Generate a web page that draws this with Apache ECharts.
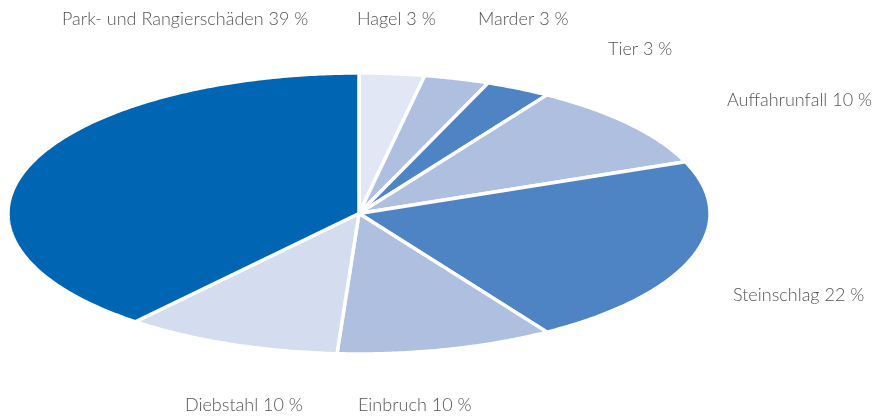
<!DOCTYPE html>
<html>
<head>
<meta charset="utf-8">
<script src="https://cdn.jsdelivr.net/npm/echarts@6/dist/echarts.min.js"></script>
<style>
  html, body { margin: 0; padding: 0; background: #fff; }
  #chart { width: 874px; height: 416px; }
</style>
</head>
<body>
<div id="chart"></div>
<script>
// Reihenfolge im Uhrzeigersinn ab 12 Uhr
const names = ['Hagel', 'Marder', 'Tier', 'Auffahrunfall', 'Steinschlag', 'Einbruch', 'Diebstahl', 'Park- und Rangierschäden'];
const values = [3, 3, 3, 10, 22, 10, 10, 39];
const colors = ['#e1e7f5', '#afbfe0', '#4f84c4', '#afbfe0', '#4f84c4', '#afbfe0', '#d3ddef', '#0066b3'];

// Lage der Beschriftungen (links, Mitte)
const labelPos = [[357, 21], [478, 21], [608, 51], [727, 102], [733, 297], [358, 407], [185, 407], [62, 21]];

const chart = echarts.init(document.getElementById('chart'));

const total = values.reduce((a, b) => a + b, 0);
let acc = 0;
const slices = values.map((v, i) => {
    const s = acc;
    acc += v;
    return [s / total, acc / total, i];
});

// gestauchter Kreis -> Ellipse über unterschiedliche Achsenskalen
function renderSlice(params, api) {
    const a0 = api.value(0) * Math.PI * 2;
    const a1 = api.value(1) * Math.PI * 2;
    const i = api.value(2);
    const pts = [api.coord([0, 0])];
    const steps = Math.max(4, Math.ceil((a1 - a0) / 0.01));
    for (let k = 0; k <= steps; k++) {
        const a = a0 + (a1 - a0) * k / steps;
        pts.push(api.coord([Math.sin(a), Math.cos(a)]));
    }
    return {
        type: 'polygon',
        shape: { points: pts },
        style: { fill: colors[i], stroke: '#fff', lineWidth: 3.5, lineJoin: 'round' }
    };
}

const option = {
    animation: false,
    grid: { left: 8, right: 164, top: 73, bottom: 62 },
    xAxis: { type: 'value', min: -1, max: 1, show: false },
    yAxis: { type: 'value', min: -1, max: 1, show: false },
    graphic: names.map((n, i) => ({
        type: 'text',
        left: labelPos[i][0],
        top: labelPos[i][1] - 11,
        style: {
            text: n + ' ' + values[i] + ' %',
            fill: '#555',
            font: '300 18px Lato',
            textVerticalAlign: 'top'
        }
    })),
    series: [{
        type: 'custom',
        renderItem: renderSlice,
        data: slices,
        encode: { x: -1, y: -1 }
    }]
};

chart.setOption(option);
</script>
</body>
</html>
